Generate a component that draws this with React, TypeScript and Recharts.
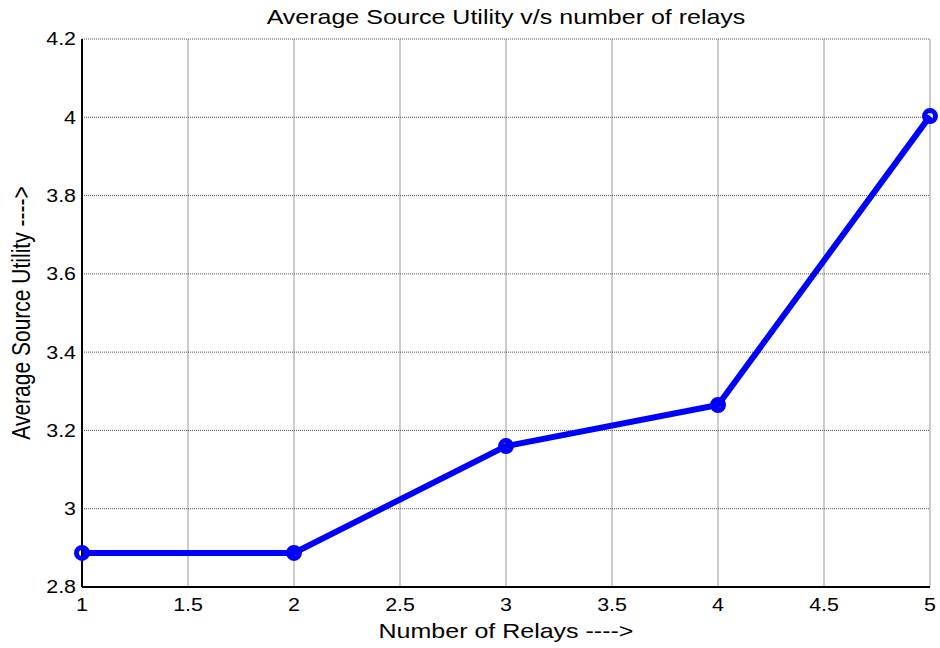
import {
  LineChart,
  Line,
  XAxis,
  YAxis,
  CartesianGrid,
} from "recharts";

const relays = [1, 2, 3, 4, 5];
const utility = [2.887, 2.887, 3.16, 3.265, 4.003];
const xTicks = [1, 1.5, 2, 2.5, 3, 3.5, 4, 4.5, 5];
const yTicks = [2.8, 3, 3.2, 3.4, 3.6, 3.8, 4, 4.2];

const chartData = relays.map((r, i) => ({ relays: r, utility: utility[i] }));

const font = "'Liberation Sans', Arial, sans-serif";
const stretch = 1.19;

function XTick(props: any) {
  const { x, y, payload } = props;
  return (
    <text
      x={0}
      y={0}
      dy="0.71em"
      textAnchor="middle"
      fontSize={18}
      fontFamily={font}
      fill="#000"
      transform={`translate(${x},${y}) scale(${stretch},1)`}
    >
      {String(payload.value)}
    </text>
  );
}

function YTick(props: any) {
  const { x, y, payload } = props;
  return (
    <text
      x={0}
      y={0}
      dy="0.355em"
      textAnchor="end"
      fontSize={18}
      fontFamily={font}
      fill="#000"
      transform={`translate(${x},${y}) scale(${stretch},1)`}
    >
      {String(payload.value)}
    </text>
  );
}

const labelStyle = {
  position: "absolute" as const,
  left: 82,
  width: 848,
  textAlign: "center" as const,
  fontSize: 21,
  transform: `scaleX(${stretch})`,
};

export default function App() {
  return (
    <div
      style={{
        position: "absolute",
        left: 0,
        top: 0,
        width: 940,
        height: 648,
        background: "#fff",
        fontFamily: font,
      }}
    >
      <LineChart
        width={940}
        height={648}
        data={chartData}
        margin={{ top: 39, right: 10, bottom: 21, left: 22 }}
      >
        <CartesianGrid stroke="#999" horizontal={false} />
        <CartesianGrid stroke="#555" strokeDasharray="1 1" vertical={false} />
        <XAxis
          dataKey="relays"
          type="number"
          domain={[1, 5]}
          ticks={xTicks}
          height={40}
          tickLine={false}
          tickSize={0}
          tickMargin={11}
          axisLine={{ stroke: "#000", strokeWidth: 2 }}
          tick={<XTick />}
        />
        <XAxis
          xAxisId="top"
          orientation="top"
          type="number"
          domain={[1, 5]}
          height={0}
          tick={false}
          tickLine={false}
          axisLine={{ stroke: "#000", strokeWidth: 2 }}
        />
        <YAxis
          type="number"
          domain={[2.8, 4.2]}
          ticks={yTicks}
          width={60}
          tickLine={false}
          tickSize={0}
          tickMargin={6}
          axisLine={{ stroke: "#000", strokeWidth: 2 }}
          tick={<YTick />}
        />
        <YAxis
          yAxisId="right"
          orientation="right"
          type="number"
          domain={[2.8, 4.2]}
          width={0}
          tick={false}
          tickLine={false}
          axisLine={{ stroke: "#000", strokeWidth: 2 }}
        />
        <Line
          type="linear"
          dataKey="utility"
          stroke="#0000ff"
          strokeWidth={6}
          dot={{ r: 5.5, stroke: "#0000ff", strokeWidth: 5, fill: "none" }}
          activeDot={false}
          isAnimationActive={false}
        />
      </LineChart>
      <div style={{ ...labelStyle, top: 5 }}>
        Average Source Utility v/s number of relays
      </div>
      <div style={{ ...labelStyle, top: 619 }}>Number of Relays ----&gt;</div>
      <div
        style={{
          position: "absolute",
          left: 22,
          top: 313,
          transform: `translate(-50%, -50%) rotate(-90deg) scaleY(${stretch})`,
          whiteSpace: "nowrap",
          fontSize: 21,
        }}
      >
        Average Source Utility ----&gt;
      </div>
    </div>
  );
}
